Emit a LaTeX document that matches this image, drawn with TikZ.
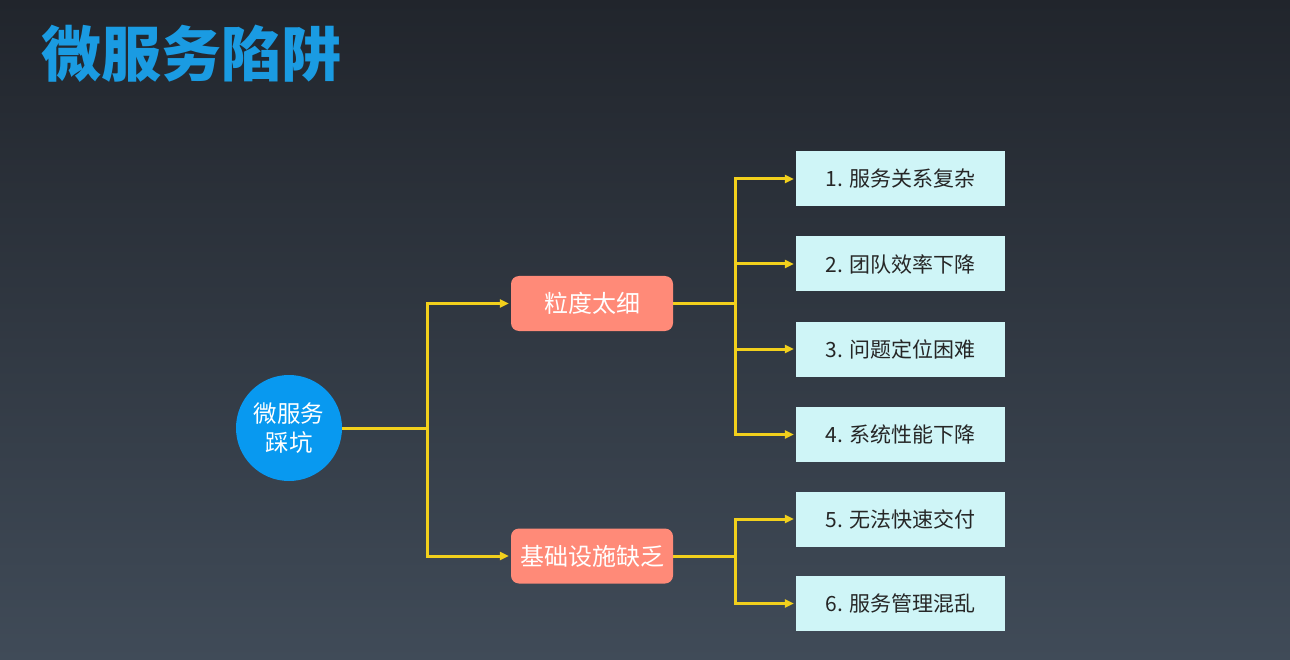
\documentclass[tikz,border=0pt]{standalone}
\usepackage{fontspec}
\usetikzlibrary{arrows.meta,calc}
\newfontfamily\cjk{Noto Sans CJK SC}
\definecolor{bgtop}{HTML}{21252C}
\definecolor{bgbot}{HTML}{404B58}
\definecolor{titleblue}{HTML}{1A9BE2}
\definecolor{circblue}{HTML}{0899F0}
\definecolor{salmon}{HTML}{FF8A78}
\definecolor{lightcyan}{HTML}{CFF5F7}
\definecolor{linkyellow}{HTML}{F2D01C}
\tikzset{
  root/.style={circle, fill=circblue, minimum size=106pt, inner sep=0pt, text=white, font=\cjk\fontsize{23.5}{29}\selectfont, align=center},
  midbox/.style={rectangle, rounded corners=8pt, fill=salmon, minimum width=162pt, minimum height=55pt, inner sep=0pt, text=white, font=\cjk\fontsize{24}{28}\selectfont},
  leafbox/.style={rectangle, fill=lightcyan, minimum width=209pt, minimum height=55pt, inner sep=0pt, text=black!85, font=\cjk\fontsize{21}{24}\selectfont},
  link/.style={draw=linkyellow, line width=3pt},
  arr/.style={link, -{Triangle[length=9pt,width=8pt]}, shorten >=2pt}
}
\begin{document}
\begin{tikzpicture}[x=1pt,y=-1pt]
\shade[top color=bgtop, bottom color=bgbot] (0,0) rectangle (1290,660);
\useasboundingbox (0,0) rectangle (1290,660);
\node[anchor=west, text=titleblue, font=\cjk\bfseries\fontsize{60}{64}\selectfont, inner sep=0pt] (title) at (41,54) {微服务陷阱};
\node[root] (root) at (289,428) {微服务\\踩坑};
\node[midbox] (m1) at (592,303.5) {粒度太细};
\node[midbox] (m2) at (592,556) {基础设施缺乏};
\node[leafbox] (l1) at (900.5,179) {1. 服务关系复杂};
\node[leafbox] (l2) at (900.5,264) {2. 团队效率下降};
\node[leafbox] (l3) at (900.5,349) {3. 问题定位困难};
\node[leafbox] (l4) at (900.5,434.5) {4. 系统性能下降};
\node[leafbox] (l5) at (900.5,519) {5. 无法快速交付};
\node[leafbox] (l6) at (900.5,603.5) {6. 服务管理混乱};
\coordinate (b0) at (427,428);
\coordinate (b1) at (735,303.5);
\coordinate (b2) at (735,556);
\draw[link] (root.east) -- (b0);
\draw[arr] (b0) |- (m1.west);
\draw[arr] (b0) |- (m2.west);
\draw[link] (m1.east) -- (b1);
\draw[link] (m2.east) -- (b2);
\foreach \l in {l1,l2,l3,l4} \draw[arr] (b1) |- (\l.west);
\foreach \l in {l5,l6} \draw[arr] (b2) |- (\l.west);
\end{tikzpicture}
\end{document}
